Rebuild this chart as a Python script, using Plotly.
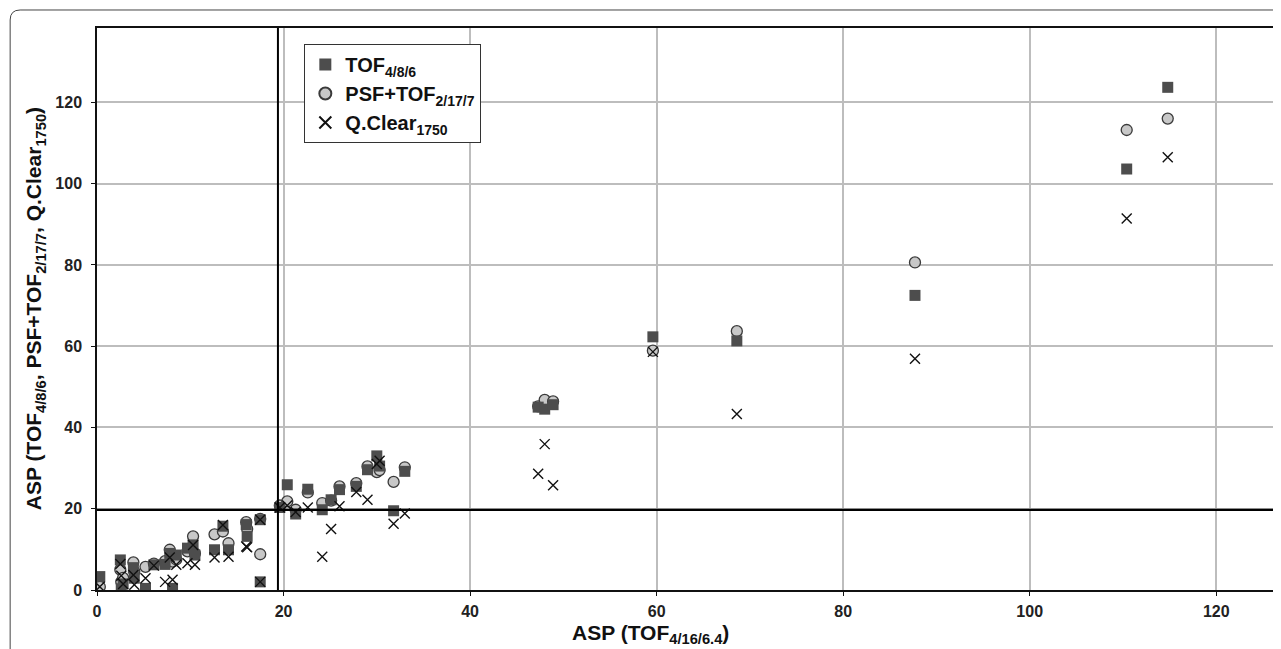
import plotly.graph_objects as go

# ASP of reference reconstruction (x) per patient
asp_ref = [0.3, 2.5, 2.6, 2.8, 3.9, 4.0, 5.2, 6.1, 7.3, 7.8, 8.1, 8.5, 9.7, 10.3, 10.5,
           12.6, 13.5, 14.1, 16.0, 16.1, 17.5, 17.5, 19.6, 20.4, 21.3, 22.6, 24.15, 25.1,
           26.0, 27.8, 29.0, 30.0, 30.3, 31.8, 33.0, 47.3, 48.0, 48.9, 59.6, 68.6, 87.7,
           110.4, 114.8]
tof_486 = [3.3, 7.4, 0.3, 1.5, 5.5, 2.9, 0.4, 6.2, 6.3, 9.0, 0.4, 8.6, 10.3, 11.1, 8.6,
           9.9, 15.7, 9.9, 16.1, 13.2, 17.3, 2.0, 20.3, 25.9, 18.7, 24.8, 19.75, 22.2,
           24.7, 25.5, 29.6, 33.0, 30.5, 19.5, 29.2, 45.0, 44.5, 45.6, 62.3, 61.3, 72.5,
           103.6, 123.7]
psf_tof = [0.8, 5.0, 2.0, 3.0, 6.8, 4.5, 5.7, 6.5, 7.1, 9.9, 7.0, 7.5, 9.5, 13.2, 9.0,
           13.7, 14.4, 11.5, 16.7, 15.0, 17.5, 8.8, 20.8, 21.8, 19.75, 24.0, 21.4, 22.0,
           25.5, 26.3, 30.4, 29.0, 29.5, 26.6, 30.2, 45.2, 46.8, 46.4, 58.9, 63.7, 80.6,
           113.2, 116.0]
qclear = [0.8, 6.4, 3.5, 1.5, 3.7, 1.3, 2.9, 6.0, 2.0, 8.0, 2.5, 6.2, 6.6, 11.1, 6.2,
          8.0, 16.0, 8.2, 10.7, 10.5, 17.3, 2.0, 20.3, 20.8, 19.2, 20.3, 8.2, 15.0,
          20.6, 24.1, 22.2, 31.0, 31.8, 16.3, 18.8, 28.6, 35.9, 25.8, 58.6, 43.3, 56.9,
          91.4, 106.5]

x_ticks = [0, 20, 40, 60, 80, 100, 120]
y_ticks = [0, 20, 40, 60, 80, 100, 120]
x_cut = 19.4
y_cut = 19.7

FONT = "Liberation Sans, Arial, sans-serif"

fig = go.Figure()
fig.add_trace(go.Scatter(
    x=asp_ref, y=psf_tof, mode="markers", name="<b>PSF+TOF<sub>2/17/7</sub></b>",
    legendrank=2,
    marker=dict(symbol="circle", size=11, color="#c8c8c8",
                line=dict(color="#3a3a3a", width=1.3))))
fig.add_trace(go.Scatter(
    x=asp_ref, y=tof_486, mode="markers", name="<b>TOF<sub>4/8/6</sub></b>",
    legendrank=1,
    marker=dict(symbol="square", size=11, color="#4d4d4d",
                line=dict(color="#4d4d4d", width=0))))
fig.add_trace(go.Scatter(
    x=asp_ref, y=qclear, mode="markers", name="<b>Q.Clear<sub>1750</sub></b>",
    legendrank=3,
    marker=dict(symbol="x-thin-open", size=10, color="#111111",
                line=dict(color="#111111", width=1.4))))

fig.add_shape(type="line", xref="x", yref="paper", x0=x_cut, x1=x_cut, y0=0, y1=1,
              line=dict(color="black", width=2))
fig.add_shape(type="line", xref="paper", yref="y", x0=0, x1=1, y0=y_cut, y1=y_cut,
              line=dict(color="black", width=2.2))

# outer rounded frame (partly cut by page)
fig.add_shape(type="path", xref="paper", yref="paper",
              path="M -0.07373,-0.2 L -0.07373,1.01423 Q -0.07373,1.03203 -0.06525,1.03203 L 1.01,1.03203",
              line=dict(color="#444444", width=1))

fig.add_annotation(text="<b>ASP (TOF<sub>4/16/6.4</sub>)</b>", xref="paper", yref="paper",
                   x=0.470, y=-0.078, xanchor="center", yanchor="middle", showarrow=False,
                   font=dict(family=FONT, size=21, color="#111111"))
fig.add_annotation(text="<b>ASP (TOF<sub>4/8/6</sub>, PSF+TOF<sub>2/17/7</sub>, Q.Clear<sub>1750</sub>)</b>",
                   xref="paper", yref="paper", x=-0.0525, y=0.5, textangle=-90,
                   xanchor="center", yanchor="middle", showarrow=False,
                   font=dict(family=FONT, size=21, color="#111111"))

axis_common = dict(showgrid=True, gridcolor="#bdbdbd", gridwidth=1.5, zeroline=False,
                   showline=True, linecolor="#111111", linewidth=1.5, mirror=True,
                   ticks="outside", ticklen=4, tickcolor="#111111",
                   tickfont=dict(family=FONT, size=16, color="#222222"))

fig.update_layout(
    width=1273, height=641,
    margin=dict(l=89, r=4, t=20, b=59),
    paper_bgcolor="white", plot_bgcolor="white",
    showlegend=True,
    legend=dict(x=0.176, y=0.9715, xanchor="left", yanchor="top",
                bgcolor="white", bordercolor="#333333", borderwidth=1,
                font=dict(family=FONT, size=20, color="#111111"),
                tracegroupgap=0, itemsizing="constant"),
    xaxis=dict(range=[0, 126.3], tickvals=x_ticks, ticklabelstandoff=2,
               ticktext=[f"<b>{v}</b>" for v in x_ticks], **axis_common),
    yaxis=dict(range=[0, 138.3], tickvals=y_ticks, ticklabelstandoff=6,
               ticktext=[f"<b>{v}</b>" for v in y_ticks], **axis_common),
)

fig.write_html("out.html")
